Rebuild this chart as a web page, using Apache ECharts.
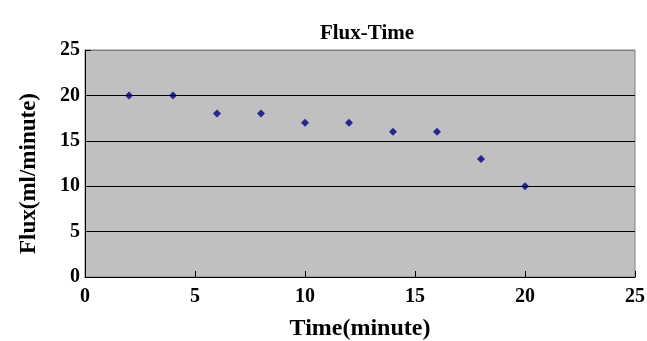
<!DOCTYPE html>
<html>
<head>
<meta charset="utf-8">
<script src="https://cdn.jsdelivr.net/npm/echarts@6/dist/echarts.min.js"></script>
<style>
  html, body { margin: 0; padding: 0; background: #fff; }
  #chart { width: 647px; height: 341px; }
</style>
</head>
<body>
<div id="chart"></div>
<script>
// time (minute) and flux (ml/minute)
const times = [2, 4, 6, 8, 10, 12, 14, 16, 18, 20];
const flux = [20, 20, 18, 18, 17, 17, 16, 16, 13, 10];

const font = '"Liberation Serif", "Times New Roman", serif';
const chart = echarts.init(document.getElementById('chart'));

const option = {
    animation: false,
    title: {
        text: 'Flux-Time',
        left: 362,
        textAlign: 'center',
        top: 18,
        textStyle: { fontFamily: font, fontWeight: 'bold', fontSize: 21, color: '#000' }
    },
    grid: {
        left: 85,
        right: 12,
        top: 50,
        bottom: 64,
        outerBoundsMode: 'none',
        containLabel: false,
        show: true,
        backgroundColor: '#C0C0C0',
        borderColor: '#808080',
        borderWidth: 1
    },
    xAxis: {
        type: 'value',
        min: 0,
        max: 25,
        interval: 5,
        name: 'Time(minute)',
        nameLocation: 'middle',
        nameGap: 40,
        nameTextStyle: { fontFamily: font, fontWeight: 'bold', fontSize: 24, color: '#000' },
        axisLine: { lineStyle: { color: '#000', width: 1 } },
        axisTick: { inside: true, length: 6, lineStyle: { color: '#000' } },
        axisLabel: { fontFamily: font, fontWeight: 'bold', fontSize: 20, color: '#000', margin: 10 },
        splitLine: { show: false }
    },
    yAxis: {
        type: 'value',
        min: 0,
        max: 25,
        interval: 5,
        name: 'Flux(ml/minute)',
        nameLocation: 'middle',
        nameGap: 44,
        nameTextStyle: {
            fontFamily: font, fontWeight: 'bold', fontSize: 23, color: '#000',
            padding: [0, 20, 0, 0]
        },
        axisLine: { show: true, lineStyle: { color: '#000', width: 1 } },
        axisTick: { show: true, inside: true, length: 6, lineStyle: { color: '#000' } },
        axisLabel: { fontFamily: font, fontWeight: 'bold', fontSize: 20, color: '#000', margin: 5 },
        splitLine: {
            show: true,
            lineStyle: { color: ['#000', '#000', '#000', '#000', '#000', '#808080'], width: 1 }
        }
    },
    series: [
        {
            type: 'scatter',
            symbol: 'diamond',
            symbolSize: 8,
            itemStyle: { color: '#000080' },
            data: times.map((t, i) => [t, flux[i]])
        }
    ]
};

chart.setOption(option);
</script>
</body>
</html>
